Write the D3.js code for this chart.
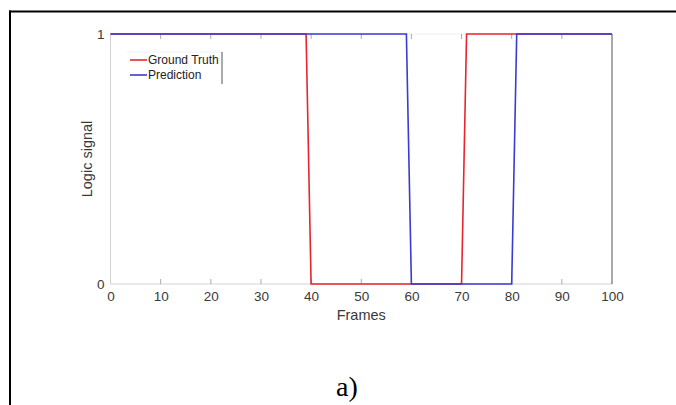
<!DOCTYPE html>
<html>
<head>
<meta charset="utf-8">
<script src="https://cdn.jsdelivr.net/npm/d3@7"></script>
<style>
  html, body { margin: 0; padding: 0; background: #fff; }
  svg { display: block; }
</style>
</head>
<body>
<svg id="chart" width="676" height="405"></svg>
<script>
// ---- data (vertices of the step signals) ----
const groundTruthFrames = [0, 39, 40, 70, 71, 100];
const groundTruthValues = [1, 1, 0, 0, 1, 1];
const predictionFrames  = [0, 59, 60, 80, 81, 100];
const predictionValues  = [1, 1, 0, 0, 1, 1];
const xTicks = [0, 10, 20, 30, 40, 50, 60, 70, 80, 90, 100];
const yTicks = [0, 1];
const seriesNames = ["Ground Truth", "Prediction"];
const seriesColors = ["#e8252d", "#3a3ad4"];

const svg = d3.select("#chart");
const W = 676, H = 405;

// figure frame (black border)
svg.append("line").attr("x1", 9).attr("x2", 676).attr("y1", 11.5).attr("y2", 11.5)
  .attr("stroke", "#000").attr("stroke-width", 2);
svg.append("line").attr("x1", 10).attr("x2", 10).attr("y1", 10.5).attr("y2", H)
  .attr("stroke", "#000").attr("stroke-width", 2);

const x = d3.scaleLinear().domain([0, 100]).range([110.5, 612]);
const y = d3.scaleLinear().domain([0, 1]).range([284, 34]);

const axisColor = "#d4d4d4";
const tickColor = "#aaa";
const labelColor = "#3a3a3a";
const font = "'Liberation Sans', Arial, sans-serif";

// axes box
const g = svg.append("g");
g.append("line").attr("x1", x(0)).attr("x2", x(100)).attr("y1", y(1)).attr("y2", y(1))
  .attr("stroke", "#eee").attr("stroke-width", 1);
g.append("line").attr("x1", x(0)).attr("x2", x(0)).attr("y1", y(1)).attr("y2", y(0))
  .attr("stroke", axisColor).attr("stroke-width", 1);
g.append("line").attr("x1", x(0)).attr("x2", x(100)).attr("y1", y(0)).attr("y2", y(0))
  .attr("stroke", axisColor).attr("stroke-width", 1.2);
g.append("line").attr("x1", x(100)).attr("x2", x(100)).attr("y1", y(1)).attr("y2", y(0))
  .attr("stroke", "#6f6f6f").attr("stroke-width", 1.2);

// bottom axis via d3
const xAxis = d3.axisBottom(x).tickValues(xTicks).tickFormat(d3.format("d")).tickSize(0).tickPadding(7);
const xa = svg.append("g").attr("transform", `translate(0,${y(0)})`).call(xAxis);
xa.select(".domain").remove();
xa.selectAll("text").attr("font-family", font).attr("font-size", 13.5).attr("fill", labelColor);

// inward ticks (bottom & top)
xTicks.forEach(t => {
  if (t === 0 || t === 100) return;
  g.append("line").attr("x1", x(t)).attr("x2", x(t)).attr("y1", y(0)).attr("y2", y(0) - 5)
    .attr("stroke", tickColor).attr("stroke-width", 1);
  g.append("line").attr("x1", x(t)).attr("x2", x(t)).attr("y1", y(1)).attr("y2", y(1) + 5)
    .attr("stroke", tickColor).attr("stroke-width", 1);
});

// left axis via d3
const yAxis = d3.axisLeft(y).tickValues(yTicks).tickFormat(d3.format("d")).tickSize(0).tickPadding(6);
const ya = svg.append("g").attr("transform", `translate(${x(0)},0)`).call(yAxis);
ya.select(".domain").remove();
ya.selectAll("text").attr("font-family", font).attr("font-size", 13.5).attr("fill", labelColor);

// axis titles
svg.append("text").attr("x", (x(0) + x(100)) / 2).attr("y", 320)
  .attr("text-anchor", "middle").attr("font-family", font).attr("font-size", 14.5)
  .attr("fill", labelColor).text("Frames");
svg.append("text").attr("transform", `translate(92,${(y(0) + y(1)) / 2}) rotate(-90)`)
  .attr("text-anchor", "middle").attr("font-family", font).attr("font-size", 14.5)
  .attr("fill", labelColor).text("Logic signal");

// lines
const line = d3.line().x(d => x(d[0])).y(d => y(d[1]));
const gt = groundTruthFrames.map((f, i) => [f, groundTruthValues[i]]);
const pr = predictionFrames.map((f, i) => [f, predictionValues[i]]);
svg.append("path").datum(gt).attr("d", line).attr("fill", "none")
  .attr("stroke", seriesColors[0]).attr("stroke-width", 1.6);
svg.append("path").datum(pr).attr("d", line).attr("fill", "none")
  .attr("stroke", seriesColors[1]).attr("stroke-width", 1.6);

// legend
const lg = svg.append("g");
lg.append("line").attr("x1", 127).attr("x2", 222).attr("y1", 52).attr("y2", 52)
  .attr("stroke", "#f0f0f0");
lg.append("line").attr("x1", 222).attr("x2", 222).attr("y1", 52).attr("y2", 84)
  .attr("stroke", "#555").attr("stroke-width", 1);
seriesNames.forEach((name, i) => {
  const cy = 60 + i * 15;
  lg.append("line").attr("x1", 130).attr("x2", 147).attr("y1", cy).attr("y2", cy)
    .attr("stroke", seriesColors[i]).attr("stroke-width", 1.6);
  lg.append("text").attr("x", 148).attr("y", cy + 4).attr("font-family", font)
    .attr("font-size", 12).attr("fill", "#222").text(name);
});

// panel label
svg.append("text").attr("x", 347).attr("y", 396).attr("text-anchor", "middle")
  .attr("font-family", "'Liberation Serif', 'DejaVu Serif', serif").attr("font-size", 28)
  .attr("fill", "#000").text("a)");
</script>
</body>
</html>
